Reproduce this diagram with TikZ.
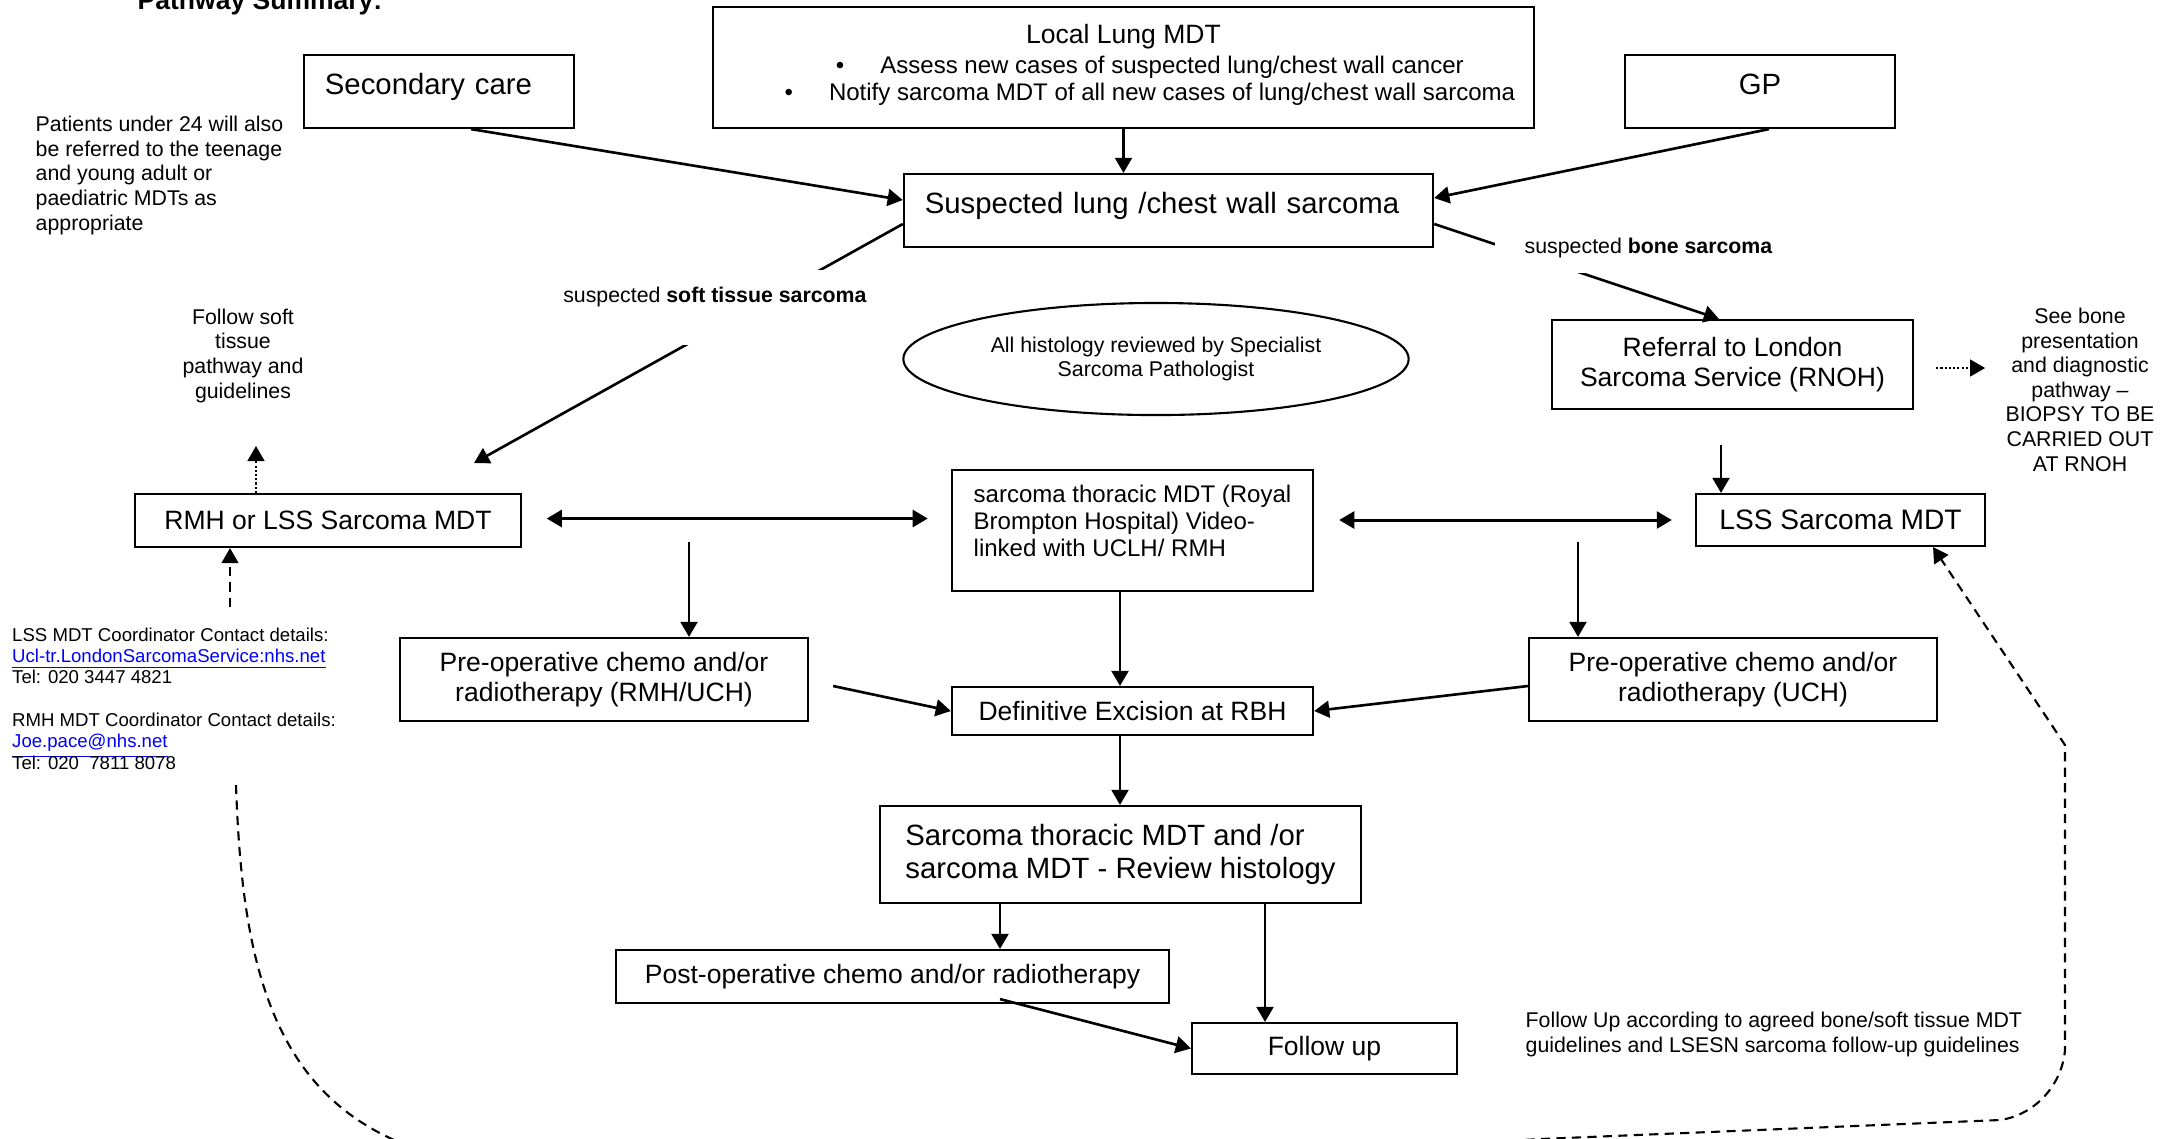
\documentclass[tikz,border=0pt]{standalone}
\usepackage{fontspec}
\setmainfont{Liberation Sans}
\usetikzlibrary{arrows.meta,calc,shapes.geometric}
\newcommand\hugetxt{\fontsize{8.34}{9.4}\selectfont}
\newcommand\bigtxt{\fontsize{7.54}{8.7}\selectfont}
\newcommand\lsstxt{\fontsize{8}{9.4}\selectfont}
\newcommand\medtxt{\fontsize{6.83}{7.68}\selectfont}
\newcommand\smalltxt{\fontsize{6.06}{6.97}\selectfont}
\newcommand\tinytxt{\fontsize{5.29}{6.06}\selectfont}
\newcommand\maillink[1]{\smash{\color{blue}\underline{#1}}}

\begin{document}
\begin{tikzpicture}[x=0.01cm,y=-0.01cm,
  box/.style={draw,line width=0.6pt,inner sep=0pt,align=center},
  txt/.style={inner sep=0pt},
  arr/.style={line width=0.75pt,-{Triangle[length=4.3pt,width=4.8pt]}},
  dblarr/.style={line width=0.85pt,{Triangle[length=4.3pt,width=4.8pt]}-{Triangle[length=4.3pt,width=4.8pt]}},
  dotarr/.style={line width=0.6pt,dash pattern=on 0.6pt off 0.6pt,-{Triangle[length=4.3pt,width=4.8pt]}},
  dasharr/.style={line width=0.6pt,dash pattern=on 2.6pt off 1.8pt,-{Triangle[length=4.3pt,width=4.8pt]}}]
\useasboundingbox (0,0) rectangle (2160,1138);

\node[txt,font=\bigtxt\bfseries,anchor=base west] (title) at (137,9) {Pathway Summary:};

\node[box,font=\medtxt,minimum width=8.21cm,minimum height=1.21cm,text depth=0.11cm] (loclung) at (1123.5,67.5)
  {{\bigtxt Local Lung MDT}\\[0.86pt]
   \hspace*{15pt}\textbullet\hspace{1.5em}Assess new cases of suspected lung/chest wall cancer\\
   \hspace*{15pt}\textbullet\hspace{1.5em}Notify sarcoma MDT of all new cases of lung/chest wall sarcoma};
\node[box,font=\hugetxt,text width=2.28cm,align=left,inner xsep=0.21cm,minimum height=0.73cm,text height=0.21cm,text depth=0.16cm] (sec) at (439,91.5) {Secondary care};
\node[box,font=\hugetxt,minimum width=2.70cm,minimum height=0.73cm,text height=0.21cm,text depth=0.16cm] (gp) at (1760,91.5) {GP};
\node[box,font=\hugetxt,text width=4.87cm,align=left,inner xsep=0.21cm,minimum height=0.73cm,text height=0.21cm,text depth=0.16cm] (susp) at (1168.5,210.5) {Suspected lung /chest wall sarcoma};
\node[draw,ellipse,line width=0.6pt,inner sep=0pt,font=\smalltxt,align=center,minimum width=5.05cm,minimum height=1.12cm] (histo) at (1156,359)
  {All histology reviewed by Specialist\\Sarcoma Pathologist};
\node[box,font=\bigtxt,minimum width=3.61cm,minimum height=0.89cm] (refer) at (1732.5,364.5) {Referral to London\\Sarcoma Service (RNOH)};
\node[box,font=\bigtxt,minimum width=3.85cm,minimum height=0.53cm] (rmh) at (328,520.5) {RMH or LSS Sarcoma MDT};
\node[box,font=\medtxt,align=left,minimum width=3.61cm,minimum height=1.21cm,text depth=0.185cm] (thor) at (1132.5,530.5)
  {sarcoma thoracic MDT (Royal\\Brompton Hospital) Video-\\linked with UCLH/ RMH};
\node[box,font=\lsstxt,minimum width=2.89cm,minimum height=0.52cm] (lss) at (1840.5,520) {LSS Sarcoma MDT};
\node[box,font=\bigtxt,minimum width=4.08cm,minimum height=0.83cm] (preL) at (604,679.5) {Pre-operative chemo and/or\\radiotherapy (RMH/UCH)};
\node[box,font=\bigtxt,minimum width=4.08cm,minimum height=0.83cm] (preR) at (1733,679.5) {Pre-operative chemo and/or\\radiotherapy (UCH)};
\node[box,font=\bigtxt,minimum width=3.61cm,minimum height=0.48cm] (excis) at (1132.5,711) {Definitive Excision at RBH};
\node[box,font=\hugetxt,align=left,minimum width=4.81cm,minimum height=0.97cm] (review) at (1120.5,854.5) {Sarcoma thoracic MDT and /or\\sarcoma MDT - Review histology};
\node[box,font=\bigtxt,minimum width=5.53cm,minimum height=0.53cm] (postop) at (892.5,976.5) {Post-operative chemo and/or radiotherapy};
\node[box,font=\bigtxt,minimum width=2.65cm,minimum height=0.51cm] (follow) at (1324.5,1048.5) {Follow up};

\node[txt,font=\smalltxt,align=left,anchor=base west] (tya) at (35,230)
  {Patients under 24 will also\\be referred to the teenage\\and young adult or\\paediatric MDTs as\\appropriate};
\node[txt,font=\smalltxt,align=center,anchor=base] (softpath) at (243,398) {Follow soft\\tissue\\pathway and\\guidelines};
\node[txt,font=\tinytxt,align=left,anchor=base west] (contacts) at (11.5,769)
  {LSS MDT Coordinator Contact details:\\\maillink{Ucl-tr.LondonSarcomaService:nhs.net}\\Tel: 020 3447 4821\\[6.06pt]
   RMH MDT Coordinator Contact details:\\\maillink{Joe.pace@nhs.net}\\Tel: 020\ \ 7811 8078};
\node[txt,font=\smalltxt,align=center,anchor=base] (seebone) at (2080,471)
  {See bone\\presentation\\and diagnostic\\pathway –\\BIOPSY TO BE\\CARRIED OUT\\AT RNOH};
\node[txt,font=\smalltxt,align=left,anchor=base west] (fupnote) at (1525,1052)
  {Follow Up according to agreed bone/soft tissue MDT\\guidelines and LSESN sarcoma follow-up guidelines};

\coordinate (rmhin) at (474,463);
\coordinate (lssin) at (1721,445);
\coordinate (preLin) at (689,542);
\coordinate (preRin) at (1578,542);
\coordinate (lssnote) at (230,607);

\draw[arr] (loclung.south) -- (loclung.south |- susp.north);
\draw[arr] ($(sec.south)+(32,0)$) -- ($(susp.west)+(0,-10.5)$);
\draw[arr] ($(gp.south)+(9,0)$) -- ($(susp.east)+(0,-12.5)$);
\draw[arr] ($(susp.west)+(0,13.5)$) -- (rmhin);
\draw[arr] ($(susp.east)+(0,13.5)$) -- ($(refer.north)+(-13.5,0)$);
\node[txt,font=\smalltxt,fill=white,anchor=base,text height=0.32cm,text depth=0.43cm] (softlbl) at (715,302) {suspected \textbf{soft tissue sarcoma}};
\node[txt,font=\smalltxt,fill=white,anchor=base west,inner xsep=0.3cm,text height=0.16cm,text depth=0.2cm] (bonelbl) at (1494,253) {suspected \textbf{bone sarcoma}};

\foreach \c/\n in {lssin/lss,preLin/preL,preRin/preR}
\draw[arr] (\c) -- (\c |- \n.north);
\draw[dotarr] ($(refer.east)+(22,3.5)$) -- ($(refer.east)+(71,3.5)$);
\draw[dotarr] ($(rmh.north)+(-72,0)$) -- ++(0,-47);
\draw[dasharr] (lssnote) -- (lssnote |- rmh.south);
\draw[dblarr] ($(rmh.east)+(25,-2)$) -- ($(thor.west |- rmh.east)+(-23,-2)$);
\draw[dblarr] ($(thor.east |- lss.west)+(25,0)$) -- ($(lss.west)+(-23,0)$);
\draw[arr] ($(preL.east)+(24,6.5)$) -- (excis.west);
\draw[arr] ($(preR.west)+(0,6.5)$) -- (excis.east);
\draw[arr] ($(thor.south)+(-12.5,0)$) -- ($(excis.north)+(-12.5,0)$);
\draw[arr] ($(excis.south)+(-12.5,0)$) -- ($(review.north)+(-0.5,0)$);
\draw[arr] ($(review.south)+(-120.5,0)$) -- ($(postop.north)+(107.5,0)$);
\draw[arr] ($(review.south)+(144.5,0)$) -- ($(follow.north)+(-59.5,0)$);
\draw[arr] ($(postop.south)+(107.5,-5)$) -- (follow.west);

\draw[dasharr] (236,785) .. controls (242,960) and (270,1100) .. (420,1150)
  .. controls (800,1200) and (1200,1160) .. (1540,1139) -- (2000,1120)
  .. controls (2035,1115) and (2062,1085) .. (2065,1050) -- (2065,745)
  -- ($(lss.south)+(92.5,0)$);
\end{tikzpicture}
\end{document}
